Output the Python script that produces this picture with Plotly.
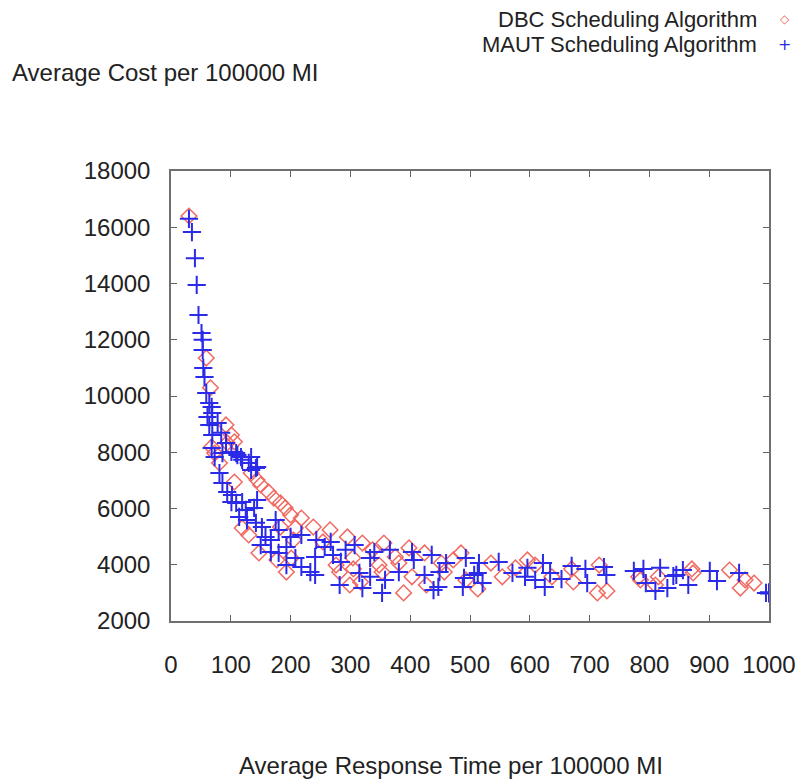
import plotly.graph_objects as go

# ---- data ----
dbc_x = [30, 59, 66, 92, 68, 73, 81, 94,
         101, 106, 106, 134, 144, 150, 163, 172, 183, 191, 200, 218, 238, 208, 119, 183, 205, 254, 177, 201, 193, 147, 130,
         266, 276, 282, 295, 304, 305, 299, 317, 320, 337, 348, 353, 356, 375, 381, 389, 398, 403, 424, 427, 452, 457, 472, 485, 493,
         535, 554, 576, 596, 609, 637, 670, 673, 513, 716, 713, 729,
         782, 785, 815, 810, 871, 873, 934, 960, 952, 975]
dbc_y = [16400, 11350, 10290, 8970, 8190, 7970, 7620, 8330,
         8610, 8370, 6940, 7260, 7010, 6840, 6590, 6370, 6200, 6020, 5770, 5660, 5340, 5310, 5310, 5340, 4880, 4810, 4170, 4240, 3740, 4420, 5060,
         5240, 3990, 3740, 4990, 4240, 3850, 3280, 3390, 4770, 4530, 3990, 3740, 4770, 4280, 4060, 3000, 4600, 3570, 4420, 3280, 4060, 3740, 4170, 4420, 3460,
         4060, 3570, 3890, 4170, 3990, 3570, 3850, 3390, 3140, 3990, 3000, 3070,
         3570, 3460, 3570, 3280, 3850, 3710, 3810, 3460, 3170, 3350]

maut_x = [30, 35, 40, 43,
          46, 51, 53, 54, 56, 59, 64, 68, 61, 69, 53,
          64, 78, 69, 84, 68, 73, 86, 101, 109, 117, 130, 142, 134, 81, 86, 94, 102, 109, 101, 119, 125, 139, 144,
          114, 127, 142, 152, 158, 167, 175, 180, 150, 167, 180, 193, 200, 218, 208, 193, 218, 233, 241, 243, 241, 257,
          92, 111, 119, 134, 144,
          267, 271, 284, 292, 282, 307, 315, 320, 333, 333, 340, 358, 353, 366, 381, 403, 406, 424, 436, 439, 447, 449,
          460, 493, 488, 490, 507,
          515, 513, 521, 548, 571, 596, 592, 609, 622, 625, 634, 653, 670, 693, 696, 724, 728,
          774, 790, 794, 818, 810, 830, 840, 845, 856, 865, 901, 913, 950, 995, 1000, 1000]
maut_y = [16300, 15830, 14900, 13950,
          12880, 12240, 11640, 11000, 10680, 10110, 9750, 9610, 9250, 9400, 12000,
          8970, 9040, 8610, 8690, 8150, 7830, 7970, 8010, 7970, 7830, 7620, 7440, 7370, 7260, 6910, 6590, 6480, 6200, 6230, 6230, 5950, 6020, 6300,
          5700, 5590, 5490, 5340, 4990, 4880, 5590, 5240, 4700, 4450, 4420, 4630, 4990, 5060, 4240, 3990, 3920, 3740, 3640, 4880, 4280, 4630,
          8330, 7900, 7730, 7830, 7480,
          4810, 4350, 4100, 4530, 3280, 4700, 3710, 3170, 4240, 3570, 4450, 3460, 3000, 4530, 3740, 4450, 4170, 3640, 4350, 3100, 3210, 3740,
          4060, 4240, 3210, 3530, 3640,
          4060, 3710, 3350, 4100, 3710, 3890, 3570, 3460, 4060, 3210, 3710, 3490, 3960, 3850, 3350, 3920, 3640,
          3780, 3850, 3350, 3890, 3070, 3170, 3600, 3640, 3810, 3280, 3780, 3420, 3710, 3000, 2980, 3020]

x_ticks = [0, 100, 200, 300, 400, 500, 600, 700, 800, 900, 1000]
y_ticks = [2000, 4000, 6000, 8000, 10000, 12000, 14000, 16000, 18000]

series_names = ["DBC Scheduling Algorithm", "MAUT Scheduling Algorithm"]
x_title = "Average Response Time per 100000 MI"
y_title = "Average Cost per 100000 MI"

RED = "#f06a62"
BLUE = "#2a2ae8"
FONT = "Liberation Sans, Arial, sans-serif"

fig = go.Figure()
fig.add_trace(go.Scatter(
    x=dbc_x, y=dbc_y, mode="markers", name=series_names[0],
    marker=dict(symbol="diamond-open", size=12, color=RED, line=dict(width=1.5, color=RED)),
))
fig.add_trace(go.Scatter(
    x=maut_x, y=maut_y, mode="markers", name=series_names[1],
    marker=dict(symbol="cross-thin-open", size=13, color=BLUE, line=dict(width=2, color=BLUE)),
))

axis_common = dict(
    showgrid=False, zeroline=False, showline=True, linecolor="#707070", linewidth=1.5,
    mirror="ticks", ticks="inside", ticklen=6, tickwidth=1.2, tickcolor="#606060",
    tickfont=dict(family=FONT, size=24, color="#222222"), tickformat="d",
)
fig.update_xaxes(range=[0, 1000], tickvals=x_ticks, ticklabelstandoff=21, **axis_common)
fig.update_yaxes(range=[2000, 18000], tickvals=y_ticks, ticklabelstandoff=14, **axis_common)

L, T, PW, PH = 171, 171, 606, 450
def px(xp):
    return (xp - L) / PW
def py(yp):
    return (T + PH - yp) / PH

ann = [
    dict(text=y_title, x=px(8), y=py(73), xanchor="left", yanchor="middle",
         font=dict(family=FONT, size=24, color="#222222")),
    dict(text=x_title, x=px(455), y=py(765), xanchor="center", yanchor="middle",
         font=dict(family=FONT, size=24, color="#222222")),
    dict(text=series_names[0], x=px(767), y=py(19), xanchor="right", yanchor="middle",
         font=dict(family=FONT, size=22, color="#222222")),
    dict(text=series_names[1], x=px(767), y=py(45), xanchor="right", yanchor="middle",
         font=dict(family=FONT, size=22, color="#222222")),
    dict(text="◇", x=px(793), y=py(19), xanchor="center", yanchor="middle",
         font=dict(family="DejaVu Sans", size=12, color=RED)),
    dict(text="+", x=px(793), y=py(45), xanchor="center", yanchor="middle",
         font=dict(family="DejaVu Sans", size=16, color=BLUE)),
]
for a in ann:
    a.update(xref="paper", yref="paper", showarrow=False)

fig.update_layout(
    width=808, height=781, autosize=False,
    margin=dict(l=L, r=808 - L - PW, t=T, b=781 - T - PH, pad=0),
    paper_bgcolor="white", plot_bgcolor="white",
    showlegend=False, annotations=ann,
)

fig.write_html("out.html")
